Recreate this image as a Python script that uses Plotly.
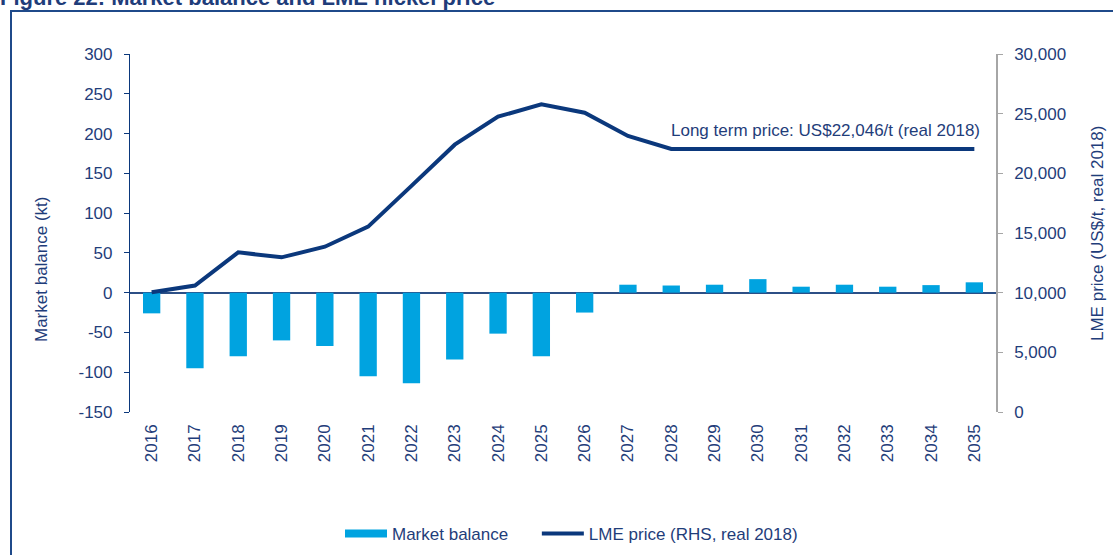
import plotly.graph_objects as go

years = [str(y) for y in range(2016, 2036)]
market_balance = [-26, -95, -80, -60, -67, -105, -114, -84, -51.5, -80, -25,
                  10, 9, 10, 17, 7.5, 10, 7.5, 9.5, 13]
lme_price = [10030, 10600, 13380, 12960, 13850, 15530, 18950, 22400, 24750, 25780,
             25080, 23130, 22046, 22046, 22046, 22046, 22046, 22046, 22046, 22046]
left_ticks = [-150, -100, -50, 0, 50, 100, 150, 200, 250, 300]
left_labels = [str(v) for v in left_ticks]
right_ticks = [0, 5000, 10000, 15000, 20000, 25000, 30000]

TXT = "#1f3d7a"
BAR = "#00a3e0"
NAVY = "#0b387c"
FONT = "Liberation Sans, Arial, sans-serif"
FS = 17
NB = "\u00a0"

fig = go.Figure()
fig.add_trace(go.Bar(x=years, y=market_balance, name="Market balance",
                     marker=dict(color=BAR, line=dict(width=0)),
                     showlegend=False, yaxis="y"))
# legend entry styled like the wide bar swatch of the reference
fig.add_trace(go.Scatter(x=[None], y=[None], mode="lines", name="Market balance" + NB * 5,
                         line=dict(color=BAR, width=8), yaxis="y"))
fig.add_trace(go.Scatter(x=years, y=lme_price, mode="lines", name="LME price (RHS, real 2018)",
                         line=dict(color=NAVY, width=4), yaxis="y2"))

fig.update_layout(
    width=1113, height=555,
    margin=dict(l=130, r=117, t=54, b=143, autoexpand=False),
    paper_bgcolor="white", plot_bgcolor="white",
    font=dict(family=FONT, size=FS, color=TXT),
    bargap=0.6,
    showlegend=True,
    legend=dict(orientation="h", x=(340 - 130) / 866, xanchor="left", y=(412 - 534) / 358,
                yanchor="middle",
                font=dict(size=FS, color=TXT), itemwidth=42, tracegroupgap=0,
                bgcolor="rgba(0,0,0,0)"),
    xaxis=dict(type="category", tickangle=-90, showline=False, showgrid=False, automargin=False,
               ticks="", tickfont=dict(size=FS, color=TXT), ticklabelstandoff=8),
    yaxis=dict(range=[-150, 300], tickvals=left_ticks, ticktext=left_labels, showgrid=False,
               automargin=False,
               showline=True, linecolor=NAVY, linewidth=1.2,
               ticks="outside", ticklen=5, tickcolor=NAVY, tickwidth=1.2,
               zeroline=True, zerolinecolor="#2c4f86", zerolinewidth=1.5,
               tickfont=dict(size=FS, color=TXT), ticklabelstandoff=8),
    yaxis2=dict(range=[0, 30000], tickvals=right_ticks, tickformat=",", overlaying="y",
                side="right", showgrid=False, zeroline=False, automargin=False,
                showline=True, linecolor="#a6a6a6", linewidth=1.5,
                ticks="outside", ticklen=5, tickcolor="#a6a6a6", tickwidth=1.2,
                tickfont=dict(size=FS, color=TXT), ticklabelstandoff=8),
)

# axis titles
fig.add_annotation(text="Market balance (kt)", xref="paper", yref="paper",
                   x=(41 - 130) / 866, y=(412 - 269) / 358, textangle=-90,
                   xanchor="center", yanchor="middle", showarrow=False,
                   font=dict(size=FS, color=TXT))
fig.add_annotation(text="LME price (US$/t, real 2018)", xref="paper", yref="paper",
                   x=(1097 - 130) / 866, y=(412 - 234) / 358, textangle=-90,
                   xanchor="center", yanchor="middle", showarrow=False,
                   font=dict(size=FS, color=TXT))

fig.add_annotation(text="Long term price: US$22,046/t (real 2018)", xref="paper", yref="y2",
                   x=0.9838, y=23550, xanchor="right", yanchor="middle", showarrow=False,
                   font=dict(size=FS, color=TXT))

fig.add_annotation(text="<b>Figure 22: Market balance and LME nickel price</b>", xref="paper", yref="paper",
                   x=(-2 - 130) / 866, y=(412 + 2.5) / 358, xanchor="left", yanchor="middle",
                   showarrow=False, font=dict(size=22, color=TXT))

fig.add_shape(type="rect", xref="paper", yref="paper", x0=(11 - 130) / 866, x1=1.16,
              y0=-0.45, y1=(412 - 11) / 358,
              line=dict(color="#1f4a8a", width=2), fillcolor="rgba(0,0,0,0)", layer="above")

fig.write_html("out.html", config={"displayModeBar": False},
               post_script="document.body.style.margin='0';")
